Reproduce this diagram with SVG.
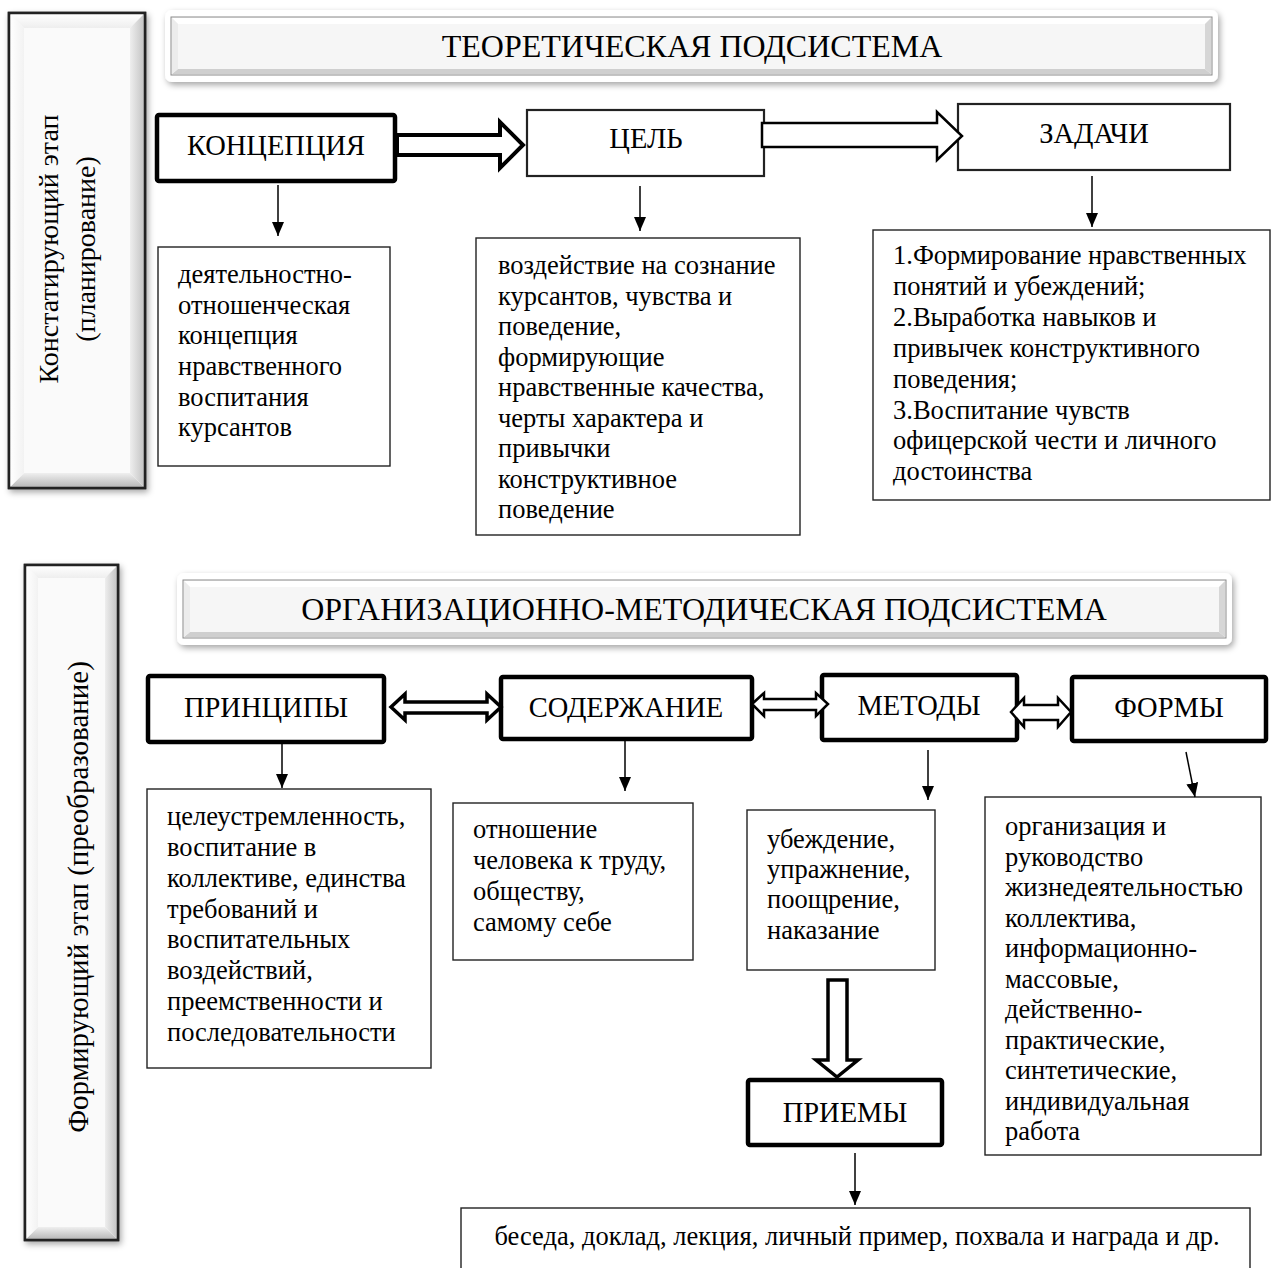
<svg xmlns="http://www.w3.org/2000/svg" width="1275" height="1268" viewBox="0 0 1275 1268">
<style>
text{font-family:"Liberation Serif","Times New Roman",serif;fill:#000}
.t{font-size:26.5px}
.lbl{font-size:28.5px;text-anchor:middle}
.hdr{font-size:32px;text-anchor:middle}
.stg{font-size:28px;text-anchor:middle}
.box{fill:#fff;stroke:#222;stroke-width:1.4}
.thick{fill:#fff;stroke:#000;stroke-width:4.5}
.mid{fill:#fff;stroke:#222;stroke-width:2.2}
.ln{stroke:#000;stroke-width:1.5;fill:none}
.hol{fill:#fff;stroke:#000;stroke-linejoin:miter}
</style>
<defs>
<filter id="sh" x="-10%" y="-10%" width="130%" height="130%"><feDropShadow dx="2" dy="3" stdDeviation="3" flood-color="#000" flood-opacity="0.35"/></filter>
<marker id="ah" viewBox="0 0 14 12" refX="14" refY="6" markerWidth="14" markerHeight="12" markerUnits="userSpaceOnUse" orient="auto"><path d="M0,0 L14,6 L0,12 z" fill="#000"/></marker>
<linearGradient id="gT" x1="0" y1="0" x2="0" y2="1"><stop offset="0" stop-color="#ffffff"/><stop offset="1" stop-color="#eeeeee"/></linearGradient>
<linearGradient id="gB" x1="0" y1="0" x2="0" y2="1"><stop offset="0" stop-color="#efefef"/><stop offset="1" stop-color="#b8b8b8"/></linearGradient>
<linearGradient id="gL" x1="0" y1="0" x2="1" y2="0"><stop offset="0" stop-color="#ffffff"/><stop offset="1" stop-color="#f2f2f2"/></linearGradient>
<linearGradient id="gR" x1="0" y1="0" x2="1" y2="0"><stop offset="0" stop-color="#eeeeee"/><stop offset="1" stop-color="#c4c4c4"/></linearGradient>
</defs>

<!-- Stage box 1 -->
<g id="stage1">
<rect x="9" y="13" width="136" height="475" fill="#fafafa" stroke="#222" stroke-width="2.5" filter="url(#sh)"/>
<polygon points="10,14 144,14 130,28 24,28" fill="url(#gT)"/>
<polygon points="10,487 144,487 130,473 24,473" fill="url(#gB)"/>
<polygon points="10,14 24,28 24,473 10,487" fill="url(#gL)"/>
<polygon points="144,14 130,28 130,473 144,487" fill="url(#gR)"/>
<rect x="9" y="13" width="136" height="475" fill="none" stroke="#222" stroke-width="2.5"/>
<text class="stg" transform="translate(58,249) rotate(-90)">Констатирующий этап</text>
<text class="stg" transform="translate(95,249) rotate(-90)">(планирование)</text>
</g>

<!-- Stage box 2 -->
<g id="stage2">
<rect x="25" y="565" width="93" height="675" fill="#fafafa" stroke="#222" stroke-width="2.5" filter="url(#sh)"/>
<polygon points="26,566 117,566 105,578 38,578" fill="url(#gT)"/>
<polygon points="26,1239 117,1239 105,1227 38,1227" fill="url(#gB)"/>
<polygon points="26,566 38,578 38,1227 26,1239" fill="url(#gL)"/>
<polygon points="117,566 105,578 105,1227 117,1239" fill="url(#gR)"/>
<rect x="25" y="565" width="93" height="675" fill="none" stroke="#222" stroke-width="2.5"/>
<text class="stg" style="font-size:29px" transform="translate(88,897) rotate(-90)">Формирующий этап (преобразование)</text>
</g>

<!-- Header 1 -->
<g id="header1">
<rect x="165" y="10" width="1053" height="72" rx="7" fill="#fff" filter="url(#sh)"/>
<rect x="171" y="17" width="1041" height="58" fill="#f6f6f6" stroke="#8a8a8a" stroke-width="1"/>
<polygon points="172,18 1211,18 1205,24 178,24" fill="#ffffff"/>
<polygon points="172,74 1211,74 1205,69 178,69" fill="#cfcfcf"/>
<polygon points="172,18 178,24 178,69 172,74" fill="#ececec"/>
<polygon points="1211,18 1205,24 1205,69 1211,74" fill="#d6d6d6"/>
<text class="hdr" x="692" y="57">ТЕОРЕТИЧЕСКАЯ ПОДСИСТЕМА</text>
</g>

<!-- Header 2 -->
<g id="header2">
<rect x="177" y="573" width="1055" height="72" rx="7" fill="#fff" filter="url(#sh)"/>
<rect x="183" y="580" width="1043" height="58" fill="#f6f6f6" stroke="#8a8a8a" stroke-width="1"/>
<polygon points="184,581 1225,581 1219,587 190,587" fill="#ffffff"/>
<polygon points="184,637 1225,637 1219,632 190,632" fill="#cfcfcf"/>
<polygon points="184,581 190,587 190,632 184,637" fill="#ececec"/>
<polygon points="1225,581 1219,587 1219,632 1225,637" fill="#d6d6d6"/>
<text class="hdr" x="704" y="620">ОРГАНИЗАЦИОННО-МЕТОДИЧЕСКАЯ ПОДСИСТЕМА</text>
</g>

<!-- Row 1 nodes -->
<g id="koncepciya">
<rect class="thick" x="157" y="115" width="238" height="66" rx="2"/>
<text class="lbl" x="276" y="155">КОНЦЕПЦИЯ</text>
</g>
<g id="cel">
<rect class="mid" x="527" y="110" width="237" height="66"/>
<text class="lbl" x="646" y="148">ЦЕЛЬ</text>
</g>
<g id="zadachi">
<rect class="mid" x="958" y="104" width="272" height="66"/>
<text class="lbl" x="1094" y="143">ЗАДАЧИ</text>
</g>

<g id="koncepciya-text">
<rect class="box" x="158" y="247" width="232" height="219"/>
<text class="t"><tspan x="178" y="283">деятельностно-</tspan><tspan x="178" y="314">отношенческая</tspan><tspan x="178" y="344">концепция</tspan><tspan x="178" y="375">нравственного</tspan><tspan x="178" y="406">воспитания</tspan><tspan x="178" y="436">курсантов</tspan></text>
</g>
<g id="cel-text">
<rect class="box" x="476" y="238" width="324" height="297"/>
<text class="t"><tspan x="498" y="274">воздействие на сознание</tspan><tspan x="498" y="304.5">курсантов, чувства и</tspan><tspan x="498" y="335">поведение,</tspan><tspan x="498" y="365.5">формирующие</tspan><tspan x="498" y="396">нравственные качества,</tspan><tspan x="498" y="426.5">черты характера и</tspan><tspan x="498" y="457">привычки</tspan><tspan x="498" y="487.5">конструктивное</tspan><tspan x="498" y="518">поведение</tspan></text>
</g>
<g id="zadachi-text">
<rect class="box" x="873" y="230" width="397" height="270"/>
<text class="t"><tspan x="893" y="264">1.Формирование нравственных</tspan><tspan x="893" y="295">понятий и убеждений;</tspan><tspan x="893" y="326">2.Выработка навыков и</tspan><tspan x="893" y="357">привычек конструктивного</tspan><tspan x="893" y="388">поведения;</tspan><tspan x="893" y="419">3.Воспитание чувств</tspan><tspan x="893" y="449">офицерской чести и личного</tspan><tspan x="893" y="480">достоинства</tspan></text>
</g>

<!-- Row 2 nodes -->
<g id="principy">
<rect class="thick" x="148" y="676" width="236" height="66" rx="2"/>
<text class="lbl" x="266" y="717">ПРИНЦИПЫ</text>
</g>
<g id="soderzhanie">
<rect class="thick" x="501" y="677" width="251" height="62" rx="2"/>
<text class="lbl" x="626" y="717">СОДЕРЖАНИЕ</text>
</g>
<g id="metody">
<rect class="thick" x="822" y="675" width="195" height="65" rx="2"/>
<text class="lbl" x="919" y="715">МЕТОДЫ</text>
</g>
<g id="formy">
<rect class="thick" x="1072" y="677" width="194" height="64" rx="2"/>
<text class="lbl" x="1169" y="717">ФОРМЫ</text>
</g>

<g id="principy-text">
<rect class="box" x="147" y="789" width="284" height="279"/>
<text class="t"><tspan x="167" y="825">целеустремленность,</tspan><tspan x="167" y="856">воспитание в</tspan><tspan x="167" y="887">коллективе, единства</tspan><tspan x="167" y="918">требований и</tspan><tspan x="167" y="948">воспитательных</tspan><tspan x="167" y="979">воздействий,</tspan><tspan x="167" y="1010">преемственности и</tspan><tspan x="167" y="1041">последовательности</tspan></text>
</g>
<g id="soderzhanie-text">
<rect class="box" x="453" y="803" width="240" height="157"/>
<text class="t"><tspan x="473" y="838">отношение</tspan><tspan x="473" y="869">человека к труду,</tspan><tspan x="473" y="900">обществу,</tspan><tspan x="473" y="931">самому себе</tspan></text>
</g>
<g id="metody-text">
<rect class="box" x="747" y="810" width="188" height="160"/>
<text class="t"><tspan x="767" y="848">убеждение,</tspan><tspan x="767" y="878">упражнение,</tspan><tspan x="767" y="908">поощрение,</tspan><tspan x="767" y="939">наказание</tspan></text>
</g>
<g id="formy-text">
<rect class="box" x="985" y="797" width="276" height="358"/>
<text class="t"><tspan x="1005" y="835">организация и</tspan><tspan x="1005" y="865.5">руководство</tspan><tspan x="1005" y="896">жизнедеятельностью</tspan><tspan x="1005" y="926.5">коллектива,</tspan><tspan x="1005" y="957">информационно-</tspan><tspan x="1005" y="987.5">массовые,</tspan><tspan x="1005" y="1018">действенно-</tspan><tspan x="1005" y="1048.5">практические,</tspan><tspan x="1005" y="1079">синтетические,</tspan><tspan x="1005" y="1109.5">индивидуальная</tspan><tspan x="1005" y="1140">работа</tspan></text>
</g>

<g id="priemy">
<rect class="thick" x="748" y="1080" width="194" height="65" rx="2"/>
<text class="lbl" x="845" y="1122">ПРИЕМЫ</text>
</g>
<g id="priemy-text">
<rect class="box" x="461" y="1208" width="789" height="70"/>
<text class="t" x="857" y="1245" text-anchor="middle">беседа, доклад, лекция, личный пример, похвала и награда и др.</text>
</g>

<!-- Connectors -->
<g id="connectors">
<polygon class="hol" stroke-width="4" points="397,135 500,135 500,122 523,145 500,168 500,155 397,155"/>
<polygon class="hol" stroke-width="2.5" points="762,123 937,123 937,112 962,136 937,160 937,147 762,147"/>
<line class="ln" x1="278" y1="185" x2="278" y2="236" marker-end="url(#ah)"/>
<line class="ln" x1="640" y1="186" x2="640" y2="231" marker-end="url(#ah)"/>
<line class="ln" x1="1092" y1="176" x2="1092" y2="227" marker-end="url(#ah)"/>

<polygon class="hol" stroke-width="3.5" points="391,707 405,694 405,702 487,702 487,694 501,707 487,720 487,713 405,713 405,720"/>
<polygon class="hol" stroke-width="2.5" points="752,704 764,693 764,699 816,699 816,693 828,704 816,716 816,710 764,710 764,716"/>
<polygon class="hol" stroke-width="2.5" points="1011,712 1024,698 1024,705 1058,705 1058,698 1071,712 1058,727 1058,720 1024,720 1024,727"/>

<line class="ln" x1="282" y1="743" x2="282" y2="788" marker-end="url(#ah)"/>
<line class="ln" x1="625" y1="741" x2="625" y2="791" marker-end="url(#ah)"/>
<line class="ln" x1="928" y1="750" x2="928" y2="800" marker-end="url(#ah)"/>
<line class="ln" x1="1186" y1="752" x2="1195" y2="797" marker-end="url(#ah)"/>

<polygon class="hol" stroke-width="3.5" points="828,980 847,980 847,1060 858,1060 837,1077 816,1060 828,1060"/>
<line class="ln" x1="855" y1="1153" x2="855" y2="1205" marker-end="url(#ah)"/>
</g>
</svg>
